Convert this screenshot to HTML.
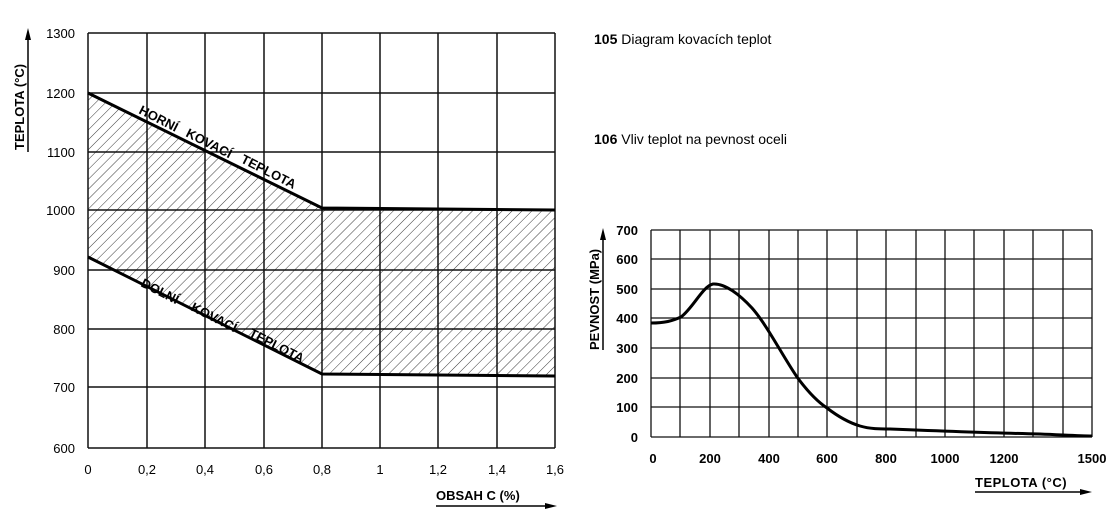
<!DOCTYPE html>
<html><head><meta charset="utf-8"><style>
body{margin:0;background:#fff;}
svg{display:block;font-family:"Liberation Sans",sans-serif;}
</style></head><body>
<svg width="1115" height="520" viewBox="0 0 1115 520">
<defs>
<pattern id="h" patternUnits="userSpaceOnUse" width="7" height="7" patternTransform="rotate(45)">
<line x1="0" y1="0" x2="0" y2="7" stroke="#222" stroke-width="0.9"/>
</pattern>
</defs>
<polygon points="88,93 322,208 555,210 555,376 322,374 88,257" fill="url(#h)"/>
<g stroke="#111" stroke-width="1.5">
<line x1="88" y1="33" x2="88" y2="448"/>
<line x1="147" y1="33" x2="147" y2="448"/>
<line x1="205" y1="33" x2="205" y2="448"/>
<line x1="264" y1="33" x2="264" y2="448"/>
<line x1="322" y1="33" x2="322" y2="448"/>
<line x1="380" y1="33" x2="380" y2="448"/>
<line x1="438" y1="33" x2="438" y2="448"/>
<line x1="497" y1="33" x2="497" y2="448"/>
<line x1="555" y1="33" x2="555" y2="448"/>
<line x1="88" y1="33" x2="555" y2="33"/>
<line x1="88" y1="93" x2="555" y2="93"/>
<line x1="88" y1="152" x2="555" y2="152"/>
<line x1="88" y1="210" x2="555" y2="210"/>
<line x1="88" y1="270" x2="555" y2="270"/>
<line x1="88" y1="329" x2="555" y2="329"/>
<line x1="88" y1="387" x2="555" y2="387"/>
<line x1="88" y1="448" x2="555" y2="448"/>
</g>
<polyline points="88,93 322,208 555,210" fill="none" stroke="#000" stroke-width="3"/>
<polyline points="88,257 322,374 555,376" fill="none" stroke="#000" stroke-width="3"/>
<g font-size="13" font-weight="bold" fill="#000">
<text transform="translate(138,113) rotate(27)">HORNÍ</text>
<text transform="translate(185,136) rotate(27)">KOVACÍ</text>
<text transform="translate(240,162) rotate(27)">TEPLOTA</text>
<text transform="translate(140,286) rotate(27)">DOLNÍ</text>
<text transform="translate(190,310) rotate(27)">KOVACÍ</text>
<text transform="translate(248,336) rotate(27)">TEPLOTA</text>
</g>
<g font-size="13" fill="#000" text-anchor="end">
<text x="75" y="38">1300</text><text x="75" y="98">1200</text><text x="75" y="157">1100</text>
<text x="75" y="215">1000</text><text x="75" y="275">900</text><text x="75" y="334">800</text>
<text x="75" y="392">700</text><text x="75" y="453">600</text>
</g>
<g font-size="13" fill="#000" text-anchor="middle">
<text x="88" y="474">0</text><text x="147" y="474">0,2</text><text x="205" y="474">0,4</text>
<text x="264" y="474">0,6</text><text x="322" y="474">0,8</text><text x="380" y="474">1</text>
<text x="438" y="474">1,2</text><text x="497" y="474">1,4</text><text x="555" y="474">1,6</text>
</g>
<text transform="translate(24,150) rotate(-90)" font-size="13" font-weight="bold">TEPLOTA (°C)</text>
<line x1="28" y1="152" x2="28" y2="35" stroke="#000" stroke-width="1.5"/>
<polygon points="28,28 25,40 31,40"/>
<text x="436" y="500" font-size="13" font-weight="bold">OBSAH C (%)</text>
<line x1="436" y1="506" x2="550" y2="506" stroke="#000" stroke-width="1.5"/>
<polygon points="557,506 545,503 545,509"/>
<text x="594" y="44" font-size="14"><tspan font-weight="bold">105</tspan>  Diagram kovacích teplot</text>
<text x="594" y="144" font-size="14"><tspan font-weight="bold">106</tspan>  Vliv teplot na pevnost oceli</text>
<g stroke="#111" stroke-width="1.3">
<line x1="651" y1="230" x2="651" y2="437"/><line x1="680" y1="230" x2="680" y2="437"/>
<line x1="710" y1="230" x2="710" y2="437"/><line x1="739" y1="230" x2="739" y2="437"/>
<line x1="769" y1="230" x2="769" y2="437"/><line x1="798" y1="230" x2="798" y2="437"/>
<line x1="827" y1="230" x2="827" y2="437"/><line x1="857" y1="230" x2="857" y2="437"/>
<line x1="886" y1="230" x2="886" y2="437"/><line x1="916" y1="230" x2="916" y2="437"/>
<line x1="945" y1="230" x2="945" y2="437"/><line x1="974" y1="230" x2="974" y2="437"/>
<line x1="1004" y1="230" x2="1004" y2="437"/><line x1="1033" y1="230" x2="1033" y2="437"/>
<line x1="1063" y1="230" x2="1063" y2="437"/><line x1="1092" y1="230" x2="1092" y2="437"/>
<line x1="651" y1="230" x2="1092" y2="230"/><line x1="651" y1="259" x2="1092" y2="259"/>
<line x1="651" y1="289" x2="1092" y2="289"/><line x1="651" y1="318" x2="1092" y2="318"/>
<line x1="651" y1="348" x2="1092" y2="348"/><line x1="651" y1="378" x2="1092" y2="378"/>
<line x1="651" y1="407" x2="1092" y2="407"/><line x1="651" y1="437" x2="1092" y2="437"/>
</g>
<path d="M651,323 C665,323 672,321 681,317 C693,308 703,286 713,284 C725,283 740,295 752,308 C767,325 782,355 797,377 C808,392 818,402 827,408 C840,418 850,423 860,426 C870,429 880,429 890,429 C940,431 990,433 1040,434 C1065,435 1080,436 1092,436" fill="none" stroke="#000" stroke-width="3"/>
<g font-size="13" fill="#000" text-anchor="end" font-weight="bold">
<text x="638" y="235">700</text><text x="638" y="264">600</text><text x="638" y="294">500</text>
<text x="638" y="323">400</text><text x="638" y="353">300</text><text x="638" y="383">200</text>
<text x="638" y="412">100</text><text x="638" y="442">0</text>
</g>
<g font-size="13" fill="#000" text-anchor="middle" font-weight="bold">
<text x="653" y="463">0</text><text x="710" y="463">200</text><text x="769" y="463">400</text>
<text x="827" y="463">600</text><text x="886" y="463">800</text><text x="945" y="463">1000</text>
<text x="1004" y="463">1200</text><text x="1092" y="463">1500</text>
</g>
<text transform="translate(599,350) rotate(-90)" font-size="13" font-weight="bold">PEVNOST (MPa)</text>
<line x1="603" y1="350" x2="603" y2="235" stroke="#000" stroke-width="1.5"/>
<polygon points="603,228 600,240 606,240"/>
<text x="975" y="487" font-size="13" font-weight="bold" letter-spacing="0.5">TEPLOTA (°C)</text>
<line x1="975" y1="492" x2="1084" y2="492" stroke="#000" stroke-width="1.5"/>
<polygon points="1092,492 1080,489 1080,495"/>
</svg>
</body></html>
